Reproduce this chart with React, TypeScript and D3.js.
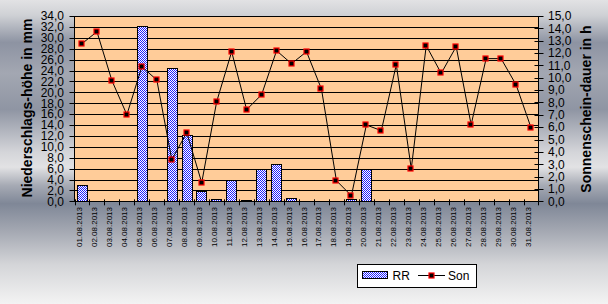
import React from "react";
import * as d3 from "d3";

const days = [
  "01.08.2013","02.08.2013","03.08.2013","04.08.2013","05.08.2013","06.08.2013","07.08.2013","08.08.2013",
  "09.08.2013","10.08.2013","11.08.2013","12.08.2013","13.08.2013","14.08.2013","15.08.2013","16.08.2013",
  "17.08.2013","18.08.2013","19.08.2013","20.08.2013","21.08.2013","22.08.2013","23.08.2013","24.08.2013",
  "25.08.2013","26.08.2013","27.08.2013","28.08.2013","29.08.2013","30.08.2013","31.08.2013",
];
const rr = [3.0,0,0,0,32.1,0,24.4,12.2,1.9,0.4,4.0,0.2,5.9,6.8,0.6,0,0,0,0.4,6.0,0,0,0,0,0,0,0,0,0,0,0];
const son = [12.76,13.73,9.77,7.01,10.9,9.82,3.37,5.56,1.51,8.07,12.11,7.42,8.63,12.19,11.14,12.11,9.09,1.67,0.45,6.18,5.72,11.06,2.64,12.6,10.36,12.52,6.2,11.55,11.55,9.44,5.96];
const leftTicks = d3.range(0, 34.01, 2);
const rightTicks = d3.range(0, 15.01, 1);
const seriesNames = ["RR", "Son"];
const leftTitle = "Niederschlags-höhe in mm";
const rightTitle = "Sonnenschein-dauer in h";

const W = 608, H = 304;
const X0 = 74.5, X1 = 538.5, Y0 = 16, Y1 = 201.3;
const FONT = "'Liberation Sans', Arial, sans-serif";

export default function App() {
  const x = d3.scaleBand<string>().domain(days).range([X0, X1]).paddingInner(0.3).paddingOuter(0.15);
  const xb = d3.scaleBand<string>().domain(days).range([X0, X1]);
  const yL = d3.scaleLinear().domain([0, 34]).range([Y1, Y0]);
  const yR = d3.scaleLinear().domain([0, 15]).range([Y1, Y0]);
  const line = d3.line<number>().x((_, i) => xb(days[i])! + xb.bandwidth() / 2).y((d) => yR(d));
  const fmt = (v: number) => v.toFixed(1).replace(".", ",");

  return (
    <svg width={W} height={H} style={{ position: "absolute", left: 0, top: 0 }} fontFamily={FONT}>
      <defs>
        <linearGradient id="bg" x1="0" y1="0" x2="0" y2="1">
          <stop offset="0" stopColor="#e2e2e4" />
          <stop offset="0.05" stopColor="#cfd1d5" />
          <stop offset="0.14" stopColor="#8d93a2" />
          <stop offset="0.24" stopColor="#a3a7b2" />
          <stop offset="0.36" stopColor="#8f95a3" />
          <stop offset="0.5" stopColor="#d4d5d9" />
          <stop offset="0.55" stopColor="#e2e2e4" />
          <stop offset="0.61" stopColor="#a6aab4" />
          <stop offset="0.67" stopColor="#7f8797" />
          <stop offset="0.76" stopColor="#a4a8b2" />
          <stop offset="0.87" stopColor="#d4d5d8" />
          <stop offset="1" stopColor="#f3f3f3" />
        </linearGradient>
        <pattern id="chk" patternUnits="userSpaceOnUse" width="2" height="2">
          <rect width="2" height="2" fill="#ffffff" />
          <rect width="1" height="1" fill="#1f1fff" />
          <rect x="1" y="1" width="1" height="1" fill="#1f1fff" />
        </pattern>
      </defs>
      <rect width={W} height={H} fill="url(#bg)" />
      <rect x={X0} y={Y0} width={X1 - X0} height={Y1 - Y0} fill="#ffcc99" />
      {leftTicks.map((t) => (
        <line key={"g" + t} x1={X0} x2={X1} y1={Math.round(yL(t)) + 0.5} y2={Math.round(yL(t)) + 0.5} stroke="#000" />
      ))}
      {rr.map((v, i) =>
        <rect key={"b" + i} x={Math.round(x(days[i])!) + 0.5} width={Math.round(x.bandwidth())} y={Math.round(yL(v)) + 0.5}
          height={Math.max(0, Math.round(yL(0)) - Math.round(yL(v)))} fill="url(#chk)" stroke={v > 0 ? "#000" : "none"} />
      )}
      <path d={line(son) || ""} fill="none" stroke="#000" strokeWidth={1} />
      {son.map((v, i) => {
        const cx = xb(days[i])! + xb.bandwidth() / 2;
        return <rect key={"m" + i} x={Math.round(cx) - 3} y={Math.round(yR(v)) - 3} width={5} height={5} fill="#000" stroke="#ff0000" strokeWidth={1.2} />;
      })}
      {/* axes */}
      <line x1={X0} x2={X0} y1={Y0} y2={Y1 + 0.5} stroke="#000" />
      <line x1={X1} x2={X1} y1={Y0} y2={Y1 + 0.5} stroke="#000" />
      <line x1={X0} x2={X1} y1={Math.round(Y1) + 0.5} y2={Math.round(Y1) + 0.5} stroke="#000" />
      {leftTicks.map((t) => (
        <g key={"lt" + t}>
          <line x1={X0 - 5} x2={X0} y1={Math.round(yL(t)) + 0.5} y2={Math.round(yL(t)) + 0.5} stroke="#000" />
          <text x={64} y={yL(t) + 4.3} fontSize={12} textAnchor="end" fill="#000">{fmt(t)}</text>
        </g>
      ))}
      {rightTicks.map((t) => (
        <g key={"rt" + t}>
          <line x1={X1 - 4} x2={X1 + 5} y1={Math.round(yR(t)) + 0.5} y2={Math.round(yR(t)) + 0.5} stroke="#000" />
          <text x={548} y={yR(t) + 4.3} fontSize={12} textAnchor="start" fill="#000">{fmt(t)}</text>
        </g>
      ))}
      {days.map((d, i) => (
        <line key={"xt" + i} x1={Math.round(xb(d)!) + 0.5} x2={Math.round(xb(d)!) + 0.5} y1={Y1 - 2} y2={Y1 + 4} stroke="#000" />
      ))}
      <line x1={X1} x2={X1} y1={Y1 - 2} y2={Y1 + 4} stroke="#000" />
      {days.map((d) => {
        const cx = xb(d)! + xb.bandwidth() / 2;
        return (
          <text key={"xl" + d} transform={`translate(${cx},207) rotate(-90)`} fontSize={8} textAnchor="end" fill="#000">{d}</text>
        );
      })}
      <text transform={`translate(27,108) rotate(-90)`} fontSize={14} fontWeight="bold" textAnchor="middle" dominantBaseline="central" fill="#000">{leftTitle}</text>
      <text transform={`translate(586,109) rotate(-90)`} fontSize={14} fontWeight="bold" textAnchor="middle" dominantBaseline="central" fill="#000">{rightTitle}</text>
      {/* legend */}
      <rect x={357.5} y={264.5} width={119} height={23} fill="#fff" stroke="#000" />
      <rect x={362.5} y={271.5} width={25} height={7} fill="url(#chk)" stroke="#000" />
      <text x={392.5} y={280} fontSize={12} fill="#000">{seriesNames[0]}</text>
      <line x1={418} x2={445} y1={275.5} y2={275.5} stroke="#000" />
      <rect x={429} y={273} width={5} height={5} fill="#000" stroke="#ff0000" strokeWidth={1.2} />
      <text x={448} y={280} fontSize={12} fill="#000">{seriesNames[1]}</text>
    </svg>
  );
}
